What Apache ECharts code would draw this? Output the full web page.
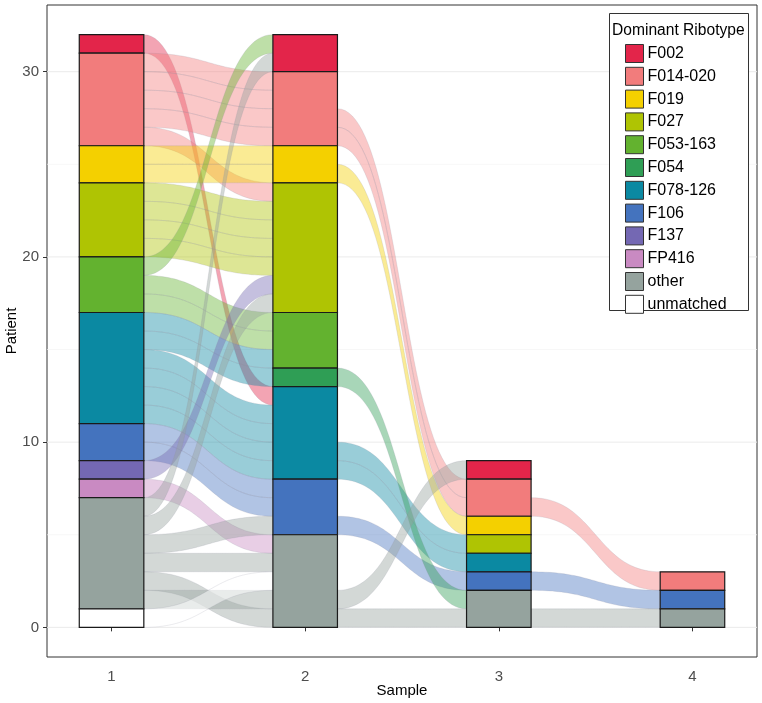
<!DOCTYPE html>
<html><head><meta charset="utf-8">
<script src="https://cdn.jsdelivr.net/npm/echarts@6/dist/echarts.min.js"></script>
<style>html,body{margin:0;padding:0;background:#fff}#c{width:762px;height:703px}</style>
</head><body><div id="c"></div>
<script>
// ---- data ----
const samples = [1, 2, 3, 4];
const ribotypes = ['F002','F014-020','F019','F027','F053-163','F054','F078-126','F106','F137','FP416','other','unmatched'];
const ribColors = ['#E3254A','#F27C7C','#F4D000','#AFC403','#63B22F','#2F9E55','#0B89A2','#4473BE','#7468B3','#C98AC2','#95A39E','#FFFFFF'];
// number of patients per ribotype (legend order) at each sample
const countsS1 = [1,5,2,4,3,0,6,2,1,1,6,1];
const countsS2 = [2,4,2,7,3,1,5,3,0,0,5,0];
const countsS3 = [1,2,1,1,0,0,1,1,0,0,2,0];
const countsS4 = [0,1,0,0,0,0,0,1,0,0,1,0];
// each patient: [stack slot at left sample, stack slot at right sample]
const flows12 = [[31,12],[30,29],[29,28],[28,27],[27,26],[26,23],[25,25],[24,24],[23,22],[22,21],[21,20],[20,19],
  [19,31],[18,16],[17,15],[16,14],[15,13],[14,11],[13,10],[12,9],[11,8],[10,7],[9,6],[8,18],[7,4],[6,30],[5,17],
  [4,5],[3,3],[2,0],[1,1],[0,2]];
const flows23 = [[27,7],[26,6],[24,5],[9,4],[8,3],[5,2],[13,1],[1,8],[0,0]];
const flows34 = [[6,2],[2,1],[0,0]];
const yTicks = [0, 10, 20, 30];
const yGrid = [0, 5, 10, 15, 20, 25, 30];

// ---- build ----
const counts = [countsS1, countsS2, countsS3, countsS4];
const halfW = 1/6;
function stack(c) {
  const segs = new Array(c.length).fill(null);
  let y = 0;
  for (let r = c.length - 1; r >= 0; r--) {
    if (c[r] > 0) { segs[r] = [y, y + c[r]]; y += c[r]; }
  }
  return segs;
}
const stacks = counts.map(stack);
function stratumAt(si, slot) {
  const segs = stacks[si];
  for (let r = 0; r < segs.length; r++) {
    if (segs[r] && slot >= segs[r][0] && slot < segs[r][1]) return r;
  }
  return 10;
}
const flowData = [];
[flows12, flows23, flows34].forEach((fl, i) => {
  fl.forEach(f => flowData.push([samples[i], f[0], samples[i + 1], f[1], stratumAt(i, f[0])]));
});

function hexA(hex, a) {
  const n = parseInt(hex.slice(1), 16);
  return 'rgba(' + ((n >> 16) & 255) + ',' + ((n >> 8) & 255) + ',' + (n & 255) + ',' + a + ')';
}

const barSeries = ribotypes.map((name, r) => {
  const data = [];
  samples.forEach((s, i) => { const seg = stacks[i][r]; if (seg) data.push([s, seg[0], seg[1]]); });
  return {
    type: 'custom', name: name, z: 4,
    itemStyle: { color: ribColors[r] },
    encode: { x: 0, y: [1, 2] },
    data: data,
    renderItem: (params, api) => {
      const x = api.value(0), b = api.value(1), t = api.value(2);
      const p1 = api.coord([x - halfW, t]);
      const p2 = api.coord([x + halfW, b]);
      return { type: 'rect', shape: { x: p1[0], y: p1[1], width: p2[0] - p1[0], height: p2[1] - p1[1] },
        style: { fill: ribColors[r], stroke: '#1a1a1a', lineWidth: 1.2 } };
    }
  };
});

function bez(y1, y2, xa, xb, t) {
  const xm = (xa + xb) / 2;
  const u = 1 - t;
  const x = u*u*u*xa + 3*u*u*t*xm + 3*u*t*t*xm + t*t*t*xb;
  const y = u*u*u*y1 + 3*u*u*t*y1 + 3*u*t*t*y2 + t*t*t*y2;
  return [x, y];
}

const flowSeries = {
  type: 'custom', name: 'flows', z: 2, silent: true,
  encode: { x: [0, 2], y: [1, 3] },
  data: flowData,
  renderItem: (params, api) => {
    const x1 = api.value(0), s1 = api.value(1), x2 = api.value(2), s2 = api.value(3), r = api.value(4);
    const xa = x1 + halfW, xb = x2 - halfW;
    const N = 48, pts = [];
    for (let k = 0; k <= N; k++) { const p = bez(s1 + 1, s2 + 1, xa, xb, k / N); pts.push(api.coord(p)); }
    for (let k = N; k >= 0; k--) { const p = bez(s1, s2, xa, xb, k / N); pts.push(api.coord(p)); }
    return { type: 'polygon', shape: { points: pts },
      style: { fill: hexA(ribColors[r], r === 11 ? 0.5 : 0.42), stroke: 'rgba(140,140,160,0.2)', lineWidth: 0.9 } };
  }
};

const gridSeries = {
  type: 'custom', name: 'gridlines', z: 1, silent: true,
  encode: { y: 0 },
  data: yGrid.map(v => [v]),
  renderItem: (params, api) => {
    const v = api.value(0);
    const a = api.coord([2/3, v]), b = api.coord([13/3, v]);
    return { type: 'line', shape: { x1: a[0], y1: a[1], x2: b[0], y2: b[1] },
      style: { stroke: v % 10 === 0 ? '#EBEBEB' : '#F3F3F3', lineWidth: v % 10 === 0 ? 1 : 0.7 } };
  }
};

const font = 'Liberation Sans, Arial, sans-serif';
const option = {
  animation: false,
  backgroundColor: '#fff',
  textStyle: { fontFamily: font },
  grid: { left: 47, right: 5, top: 5, bottom: 46, containLabel: false, outerBoundsMode: 'none',
    show: true, borderColor: '#333', borderWidth: 1, backgroundColor: 'transparent' },
  xAxis: {
    type: 'value', min: 2/3, max: 13/3,
    name: 'Sample', nameLocation: 'middle', nameGap: 26, nameMoveOverlap: false,
    nameTextStyle: { color: '#000', fontSize: 15, fontFamily: font },
    axisLine: { show: false }, splitLine: { show: false },
    axisTick: { show: true, customValues: samples, length: 4, lineStyle: { color: '#333' } },
    axisLabel: { customValues: samples, color: '#4D4D4D', fontSize: 15, margin: 12, fontFamily: font, formatter: v => String(Math.round(v)) }
  },
  yAxis: {
    type: 'value', min: -1.6, max: 33.6,
    name: 'Patient', nameLocation: 'middle', nameGap: 28, nameRotate: 90, nameMoveOverlap: false,
    nameTextStyle: { color: '#000', fontSize: 15, fontFamily: font },
    axisLine: { show: false }, splitLine: { show: false },
    axisTick: { show: true, customValues: yTicks, length: 4, lineStyle: { color: '#333' } },
    axisLabel: { customValues: yTicks, color: '#4D4D4D', fontSize: 15, margin: 8, fontFamily: font, formatter: v => String(Math.round(v)) }
  },
  legend: {
    orient: 'vertical', left: 625, top: 44, z: 10,
    itemWidth: 18, itemHeight: 18, itemGap: 3.8, padding: 0,
    selectedMode: false, icon: 'rect',
    textStyle: { color: '#000', fontSize: 16, fontFamily: font, padding: [0, 0, 0, -1] },
    data: ribotypes.map((n, r) => ({ name: n, icon: 'rect', itemStyle: { color: ribColors[r], borderColor: '#333', borderWidth: 1 } }))
  },
  graphic: [
    { type: 'rect', left: 609, top: 13, z: 8, shape: { width: 139, height: 297 }, style: { fill: '#fff', stroke: '#333', lineWidth: 1 } },
    { type: 'text', left: 612, top: 23, z: 9, style: { text: 'Dominant Ribotype', fill: '#000', font: '15.6px ' + font } }
  ],
  series: [gridSeries, flowSeries].concat(barSeries)
};
const chart = echarts.init(document.getElementById('c'));
chart.setOption(option);
</script></body></html>
